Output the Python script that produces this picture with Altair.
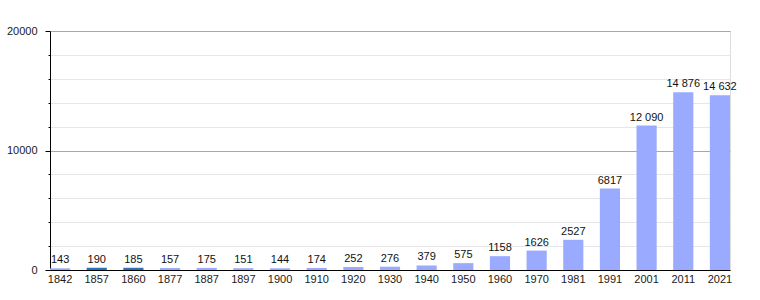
import altair as alt
import pandas as pd

years = ["1842", "1857", "1860", "1877", "1887", "1897", "1900", "1910", "1920",
         "1930", "1940", "1950", "1960", "1970", "1981", "1991", "2001", "2011", "2021"]
population = [143, 190, 185, 157, 175, 151, 144, 174, 252,
              276, 379, 575, 1158, 1626, 2527, 6817, 12090, 14876, 14632]
value_labels = ["143", "190", "185", "157", "175", "151", "144", "174", "252",
                "276", "379", "575", "1158", "1626", "2527", "6817", "12 090", "14 876", "14 632"]
dark_years = ["1857", "1860"]
y_ticks = list(range(0, 20001, 2000))

df = pd.DataFrame({"year": years, "pop": population, "label": value_labels})
df["kind"] = ["dark" if y in dark_years else "light" for y in years]

FONT = "Liberation Sans"
MAJOR = "datum.value % 10000 === 0"

x_enc = alt.X("year:N", sort=years, title=None,
              scale=alt.Scale(paddingInner=0.45, paddingOuter=0),
              axis=alt.Axis(labelAngle=0, ticks=False, domainColor="#000000",
                            labelFont=FONT, labelFontSize=11, labelColor="#1a1a1a",
                            labelPadding=3, grid=False))

y_enc = alt.Y("pop:Q", title=None,
              scale=alt.Scale(domain=[0, 20000], nice=False),
              axis=alt.Axis(values=y_ticks,
                            labelExpr=f"{MAJOR} ? datum.value : ''",
                            labelOverlap=False,
                            grid=True,
                            gridColor={"condition": {"test": MAJOR, "value": "#a8a8a8"},
                                       "value": "#e6e6e6"},
                            tickSize={"condition": {"test": MAJOR, "value": 5},
                                      "value": 2},
                            tickColor="#000000", domainColor="#000000",
                            labelFont=FONT, labelFontSize=11, labelColor="#1a1a1a",
                            labelPadding=8))

bars = alt.Chart(df).mark_bar().encode(
    x=x_enc,
    y=y_enc,
    color=alt.Color("kind:N", legend=None,
                    scale=alt.Scale(domain=["light", "dark"], range=["#9aabff", "#2a72b8"])),
)

texts = alt.Chart(df).mark_text(baseline="bottom", dy=-3, font=FONT, fontSize=11,
                                color="#111111").encode(
    x=x_enc,
    y=y_enc,
    text="label:N",
)

chart = (
    alt.layer(bars, texts)
    .properties(
        width=680, height=239,
        autosize=alt.AutoSizeParams(type="none"),
        padding={"left": 50, "top": 31, "right": 30, "bottom": 30},
    )
    .configure_view(stroke="transparent", strokeWidth=0, fill="white")
    .configure_axisX(grid=False)
    .configure(background="white")
)

chart.save("out.html", embed_options={"renderer": "svg", "actions": False})
